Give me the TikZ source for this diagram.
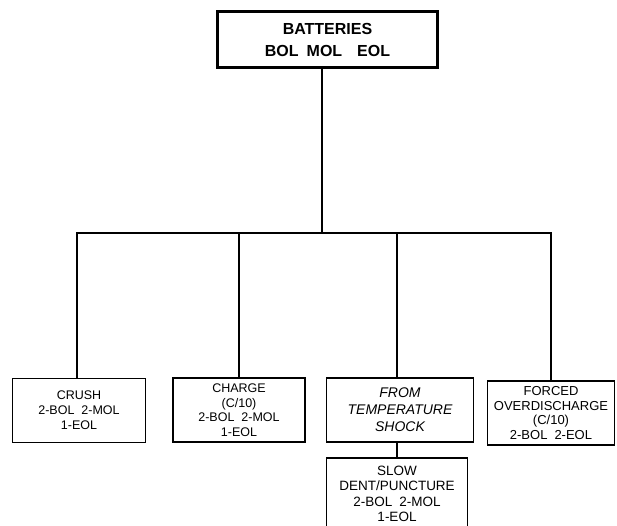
\documentclass[tikz,border=0pt]{standalone}
\usepackage{fontspec}
\setmainfont{Liberation Sans}
\newcommand{\gap}{\hspace{7pt}}
\begin{document}
\begin{tikzpicture}[x=1pt, y=1pt, line width=1.1pt,
    leaf/.style={draw, align=center, inner sep=0pt,
      font=\fontsize{12.5}{15}\selectfont},
    topbox/.style={draw, line width=2.5pt, align=center, inner sep=0pt,
      font=\bfseries\fontsize{16}{22}\selectfont}]
  \clip (0,0) rectangle (617,-525);

  % head of the tree
  \node[topbox, minimum width=220pt, minimum height=56pt] (batt) at (327.5,-39.5)
    {BATTERIES\\BOL\hspace{8pt}MOL\hspace{15pt}EOL};
  \coordinate (bus) at (322,-233);

  % tests
  \node[leaf, minimum width=133pt, minimum height=64pt] (crush) at (79,-410.5)
    {CRUSH\\2-BOL\gap 2-MOL\\1-EOL};
  \node[leaf, minimum width=132pt, minimum height=64pt,
    font=\fontsize{12.5}{14.5}\selectfont] (charge) at (239,-410)
    {CHARGE\\(C/10)\\2-BOL\gap 2-MOL\\1-EOL};
  \node[leaf, minimum width=147pt, minimum height=64pt,
    font=\itshape\fontsize{14}{17}\selectfont] (temp) at (400,-410)
    {FROM\\TEMPERATURE\\SHOCK};
  \node[leaf, minimum width=127pt, minimum height=64pt,
    font=\fontsize{13}{14.5}\selectfont] (forced) at (551,-413)
    {FORCED\\OVERDISCHARGE\\(C/10)\\2-BOL\gap 2-EOL};
  \node[leaf, minimum width=141pt, minimum height=72pt,
    font=\fontsize{13.5}{15.5}\selectfont] (slow) at (397,-494)
    {SLOW\\DENT/PUNCTURE\\2-BOL\gap 2-MOL\\1-EOL};

  % connectors
  \draw (batt.south -| bus) -- (bus);
  \draw (crush.north -| 77,0) |- (bus);
  \draw (charge.north) |- (bus);
  \draw (temp.north -| 397,0) |- (bus);
  \draw (forced.north) |- (bus);
  \draw (slow.north -| 397,0) -- (temp.south -| 397,0);
\end{tikzpicture}
\end{document}
